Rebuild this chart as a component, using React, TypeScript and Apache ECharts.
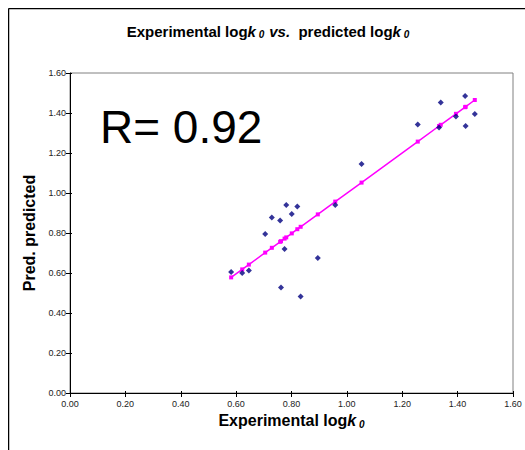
import React, { useEffect, useRef } from "react";
import * as echarts from "echarts";

const experimental = [0.582, 0.622, 0.646, 0.705, 0.729, 0.759, 0.781, 0.801, 0.821, 0.775, 0.895, 0.762, 0.833, 0.958, 1.053, 1.256, 1.339, 1.333, 1.394, 1.427, 1.429, 1.462];
const predicted = [0.605, 0.6, 0.612, 0.795, 0.877, 0.862, 0.94, 0.895, 0.933, 0.72, 0.675, 0.527, 0.483, 0.94, 1.145, 1.343, 1.453, 1.328, 1.382, 1.485, 1.335, 1.395];
const fitX = [0.582, 0.622, 0.646, 0.705, 0.729, 0.759, 0.762, 0.775, 0.781, 0.801, 0.821, 0.833, 0.895, 0.958, 1.053, 1.256, 1.333, 1.339, 1.394, 1.427, 1.429, 1.462];
const fitY = [0.578, 0.618, 0.642, 0.702, 0.726, 0.756, 0.759, 0.772, 0.778, 0.798, 0.819, 0.831, 0.893, 0.957, 1.052, 1.257, 1.335, 1.341, 1.396, 1.429, 1.431, 1.465];
const axisMin = 0;
const axisMax = 1.6;
const axisStep = 0.2;
const rText = "R= 0.92";

const FONT = "'Liberation Sans', Arial, sans-serif";

export default function App() {
  const ref = useRef<HTMLDivElement>(null);
  useEffect(() => {
    if (!ref.current) return;
    document.body.style.margin = "0";
    document.body.style.overflow = "hidden";
    const chart = echarts.init(ref.current, null, { renderer: "svg" });
    const scatterData = experimental.map((x, i) => [x, predicted[i]]);
    const lineData = fitX.map((x, i) => [x, fitY[i]]);
    const fmt = (v: number) => v.toFixed(2);
    const rich = {
      b: { fontFamily: FONT, fontWeight: "bold", fontSize: 15, color: "#000" },
      bi: { fontFamily: FONT, fontWeight: "bold", fontStyle: "italic", fontSize: 15, color: "#000" },
      sub: { fontFamily: FONT, fontWeight: "bold", fontStyle: "italic", fontSize: 10, color: "#000", padding: [7, 0, 0, 0] },
      xb: { fontFamily: FONT, fontWeight: "bold", fontSize: 16, color: "#000" },
      xbi: { fontFamily: FONT, fontWeight: "bold", fontStyle: "italic", fontSize: 16, color: "#000" },
      xsub: { fontFamily: FONT, fontWeight: "bold", fontStyle: "italic", fontSize: 10, color: "#000", padding: [8, 0, 0, 0] },
    };
    chart.setOption({
      animation: false,
      backgroundColor: "#fff",
      title: {
        text: "{b|Experimental log}{bi|k}{sub| 0} {bi|vs.}{b|  predicted log}{bi|k}{sub| 0}",
        left: 255,
        textAlign: "center",
        top: 9,
        textStyle: { rich },
      },
      graphic: [
        { type: "line", shape: { x1: 0.5, y1: 0.5, x2: 530, y2: 0.5 }, style: { stroke: "#000", lineWidth: 1.5 } },
        { type: "line", shape: { x1: 0.5, y1: 0.5, x2: 0.5, y2: 460 }, style: { stroke: "#000", lineWidth: 1.5 } },
        {
          type: "text",
          x: 92,
          y: 119,
          style: { text: rText, fontFamily: FONT, fontSize: 46, fill: "#000", verticalAlign: "middle", align: "left" },
        },
      ],
      grid: {
        left: 62,
        top: 65,
        width: 443,
        height: 320,
        show: true,
        borderColor: "#808080",
        borderWidth: 1,
        backgroundColor: "#fff",
        containLabel: false,
        outerBoundsMode: "none",
      },
      xAxis: [
        {
          type: "value",
          min: axisMin,
          max: axisMax,
          interval: axisStep,
          name: "{xb|Experimental log}{xbi|k}{xsub| 0}",
          nameLocation: "middle",
          nameGap: 13,
          nameTextStyle: { rich },
          axisLine: { lineStyle: { color: "#000", width: 1 } },
          axisTick: { length: 4, lineStyle: { color: "#000" } },
          axisLabel: { formatter: fmt, fontFamily: FONT, fontSize: 9, color: "#222", margin: 6, showMaxLabel: true },
          splitLine: { show: false },
        },
        {
          type: "value",
          min: axisMin,
          max: axisMax,
          interval: axisStep,
          position: "bottom",
          axisLine: { show: false },
          axisTick: { inside: true, length: 2, lineStyle: { color: "#000" } },
          axisLabel: { show: false },
          splitLine: { show: false },
        },
      ],
      yAxis: [
        {
          type: "value",
          min: axisMin,
          max: axisMax,
          interval: axisStep,
          name: "Pred. predicted",
          nameLocation: "middle",
          nameGap: 32,
          nameTextStyle: { fontFamily: FONT, fontWeight: "bold", fontSize: 16, color: "#000" },
          axisLine: { lineStyle: { color: "#000", width: 1 } },
          axisTick: { length: 4, lineStyle: { color: "#000" } },
          axisLabel: { formatter: fmt, fontFamily: FONT, fontSize: 9, color: "#222", margin: 4 },
          splitLine: { show: false },
        },
        {
          type: "value",
          min: axisMin,
          max: axisMax,
          interval: axisStep,
          position: "left",
          axisLine: { show: false },
          axisTick: { inside: true, length: 2, lineStyle: { color: "#000" } },
          axisLabel: { show: false },
          splitLine: { show: false },
        },
      ],
      series: [
        {
          type: "line",
          data: lineData,
          symbol: "rect",
          symbolSize: 4,
          lineStyle: { color: "#FF00FF", width: 1.5 },
          itemStyle: { color: "#FF00FF" },
          z: 2,
        },
        {
          type: "scatter",
          data: scatterData,
          symbol: "diamond",
          symbolSize: 6,
          itemStyle: { color: "#000080" },
          z: 3,
        },
      ],
    });
    return () => chart.dispose();
  }, []);
  return (
    <div style={{ padding: "8px 0 0 8px", width: 517, height: 442 }}>
      <div ref={ref} style={{ width: 517, height: 442 }} />
    </div>
  );
}
